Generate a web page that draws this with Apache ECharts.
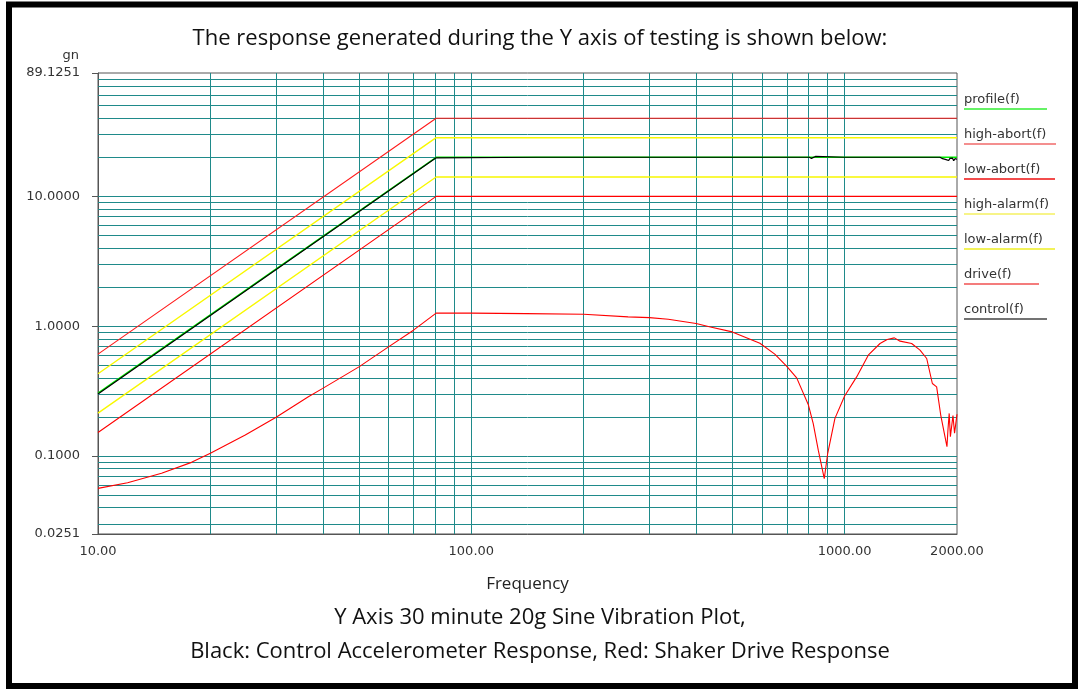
<!DOCTYPE html>
<html><head><meta charset="utf-8">
<script src="https://cdn.jsdelivr.net/npm/echarts@6/dist/echarts.min.js"></script>
<style>html,body{margin:0;padding:0;background:#fff}#c{width:1080px;height:689px}</style>
</head><body><div id="c"></div><script>
// ---- data ----
const seriesNames = ['profile(f)','high-abort(f)','low-abort(f)','high-alarm(f)','low-alarm(f)','drive(f)','control(f)'];
const profileFreq = [10, 80.5, 2000];
const profileG    = [0.305, 20, 20];
const highAbortG  = [0.61, 40, 40];
const lowAbortG   = [0.152, 10, 10];
const highAlarmG  = [0.43, 28.3, 28.3];
const lowAlarmG   = [0.214, 14.1, 14.1];
const driveFreq = [10, 12, 14.8, 17.8, 20, 24.8, 30, 36.6, 40, 50, 60, 70, 80.5, 100, 140, 200, 263, 300, 337, 400, 434, 500, 593, 650, 700, 744, 800, 824, 850, 882, 901, 942, 1000, 1077, 1157, 1244, 1300, 1359, 1408, 1512, 1592, 1659, 1718, 1764, 1809, 1857, 1880, 1891, 1906, 1920, 1936, 1951, 1970, 2000];
const driveG    = [0.0564, 0.0623, 0.0736, 0.0894, 0.105, 0.145, 0.199, 0.286, 0.332, 0.486, 0.693, 0.932, 1.26, 1.26, 1.25, 1.235, 1.18, 1.165, 1.13, 1.05, 0.99, 0.904, 0.74, 0.61, 0.49, 0.40, 0.247, 0.178, 0.111, 0.0669, 0.105, 0.195, 0.29, 0.407, 0.598, 0.736, 0.79, 0.813, 0.767, 0.736, 0.654, 0.564, 0.362, 0.341, 0.207, 0.141, 0.118, 0.158, 0.213, 0.141, 0.137, 0.205, 0.15, 0.21];
const controlFreq = [10, 80.5, 150, 400, 805, 815, 822, 835, 842, 1000, 1800, 1830, 1850, 1870, 1885, 1900, 1915, 1930, 1945, 1960, 1975, 2000];
const controlG    = [0.300, 19.8, 20, 20, 20, 19.6, 20, 20.3, 20, 20, 20, 19.5, 19.9, 19.2, 19.8, 18.9, 19.6, 19.0, 19.7, 18.8, 19.5, 19.3];
const xDecades = [10, 100, 1000];
const yDecades = [0.01, 0.1, 1, 10];
const minorSteps = [1, 2, 3, 4, 5, 6, 7, 8, 9];
const xMin = 10, xMax = 2000, yMin = 0.0251, yMax = 89.1251;
const titleText = 'The response generated during the Y axis of testing is shown below:';
const captionLine1 = 'Y Axis 30 minute 20g Sine Vibration Plot,';
const captionLine2 = 'Black: Control Accelerometer Response, Red: Shaker Drive Response';
// ---------------------------------------

const zip = (xs, ys) => xs.map((x, i) => [x, ys[i]]);
const xGrid = [], yGrid = [];
xDecades.forEach(d => minorSteps.forEach(m => { const v = d * m; if (v > xMin && v < xMax) xGrid.push(v); }));
yDecades.forEach(d => minorSteps.forEach(m => { const v = +(d * m).toPrecision(6); if (v > yMin && v < yMax) yGrid.push(v); }));

const colors = {
  'profile(f)': '#00ee00', 'high-abort(f)': '#ff1a1a', 'low-abort(f)': '#ff0000',
  'high-alarm(f)': '#f8f800', 'low-alarm(f)': '#f8f800', 'drive(f)': '#ff0000', 'control(f)': '#000000'
};
const underline = {
  'profile(f)': ['#33ee33', 83], 'high-abort(f)': ['#f06a6a', 92], 'low-abort(f)': ['#ee1111', 91],
  'high-alarm(f)': ['#f4f060', 91], 'low-alarm(f)': ['#eeee22', 91], 'drive(f)': ['#f05050', 75], 'control(f)': ['#444444', 83]
};
const rich = { t: { fontFamily: 'DejaVu Sans', fontSize: 13, color: '#333', lineHeight: 16 } };
seriesNames.forEach((n, i) => {
  rich['u' + i] = { width: underline[n][1], height: 1.5, lineHeight: 3, backgroundColor: underline[n][0] };
});

const lineSeries = (name, xs, ys, width, z) => ({
  name, type: 'line', data: zip(xs, ys), showSymbol: false, symbol: 'none',
  lineStyle: { color: colors[name], width: width }, itemStyle: { color: colors[name] },
  z: z, silent: true, emphasis: { disabled: true }
});
const capStyle = { fontFamily: 'Open Sans', fontSize: 22, fontWeight: 'normal', color: '#111', lineHeight: 30 };

const chart = echarts.init(document.getElementById('c'));
chart.setOption({
  animation: false,
  backgroundColor: '#fff',
  title: [
    { text: titleText, left: 'center', top: 19, textStyle: capStyle },
    { text: captionLine1, left: 'center', top: 598, textStyle: capStyle },
    { text: captionLine2, left: 'center', top: 632, textStyle: capStyle }
  ],
  graphic: [{ type: 'rect', silent: true, shape: { x: 9, y: 4.5, width: 1066, height: 681.5 },
    style: { fill: 'none', stroke: '#000', lineWidth: 6 }, z: 100 }],
  legend: {
    data: seriesNames, orient: 'vertical', left: 954, top: 88, itemGap: 13,
    icon: 'none', itemWidth: 0, itemHeight: 0, selectedMode: false,
    formatter: n => '{t|' + n + '}\n{u' + seriesNames.indexOf(n) + '|}',
    textStyle: { rich: rich }
  },
  grid: { left: 98, right: 123, top: 73, bottom: 155, show: true, borderColor: '#555', borderWidth: 1, containLabel: false },
  xAxis: {
    type: 'log', logBase: 10, min: xMin, max: xMax,
    name: 'Frequency', nameLocation: 'middle', nameGap: 42,
    nameTextStyle: { fontFamily: 'Open Sans', fontSize: 17, color: '#222' },
    axisLine: { lineStyle: { color: '#555' } }, axisTick: { show: false },
    splitLine: { show: false },
    axisLabel: { margin: 11, fontFamily: 'DejaVu Sans', fontSize: 13, color: '#333', formatter: v => Number(v).toFixed(2) }
  },
  yAxis: {
    type: 'log', logBase: 10, min: yMin, max: yMax,
    name: 'gn', nameLocation: 'end', nameGap: 11,
    nameTextStyle: { fontFamily: 'DejaVu Sans', fontSize: 13, color: '#333', align: 'right', padding: [0, 19, 0, 0] },
    axisLine: { lineStyle: { color: '#555' } },
    axisTick: { show: true, length: 6, lineStyle: { color: '#555' } },
    splitLine: { show: false },
    axisLabel: { margin: 18, fontFamily: 'DejaVu Sans', fontSize: 13, color: '#333', formatter: v => Number(v).toFixed(4) }
  },
  series: [
    { name: '_grid', type: 'line', data: [[xMin, 1]], showSymbol: false, symbol: 'none', lineStyle: { opacity: 0 }, z: 1, silent: true,
      markLine: { silent: true, z: 1, symbol: ['none', 'none'], label: { show: false }, animation: false,
        lineStyle: { color: '#1f8a8a', width: 1, type: 'solid' }, emphasis: { disabled: true },
        data: xGrid.map(v => ({ xAxis: v })).concat(yGrid.map(v => ({ yAxis: v }))) } },
    lineSeries('profile(f)', profileFreq, profileG, 1.5, 6),
    lineSeries('high-abort(f)', profileFreq, highAbortG, 1.1, 6),
    lineSeries('low-abort(f)', profileFreq, lowAbortG, 1.1, 6),
    lineSeries('high-alarm(f)', profileFreq, highAlarmG, 1.4, 6),
    lineSeries('low-alarm(f)', profileFreq, lowAlarmG, 1.4, 6),
    lineSeries('drive(f)', driveFreq, driveG, 1.1, 6),
    lineSeries('control(f)', controlFreq, controlG, 1.2, 7)
  ]
});
</script></body></html>
